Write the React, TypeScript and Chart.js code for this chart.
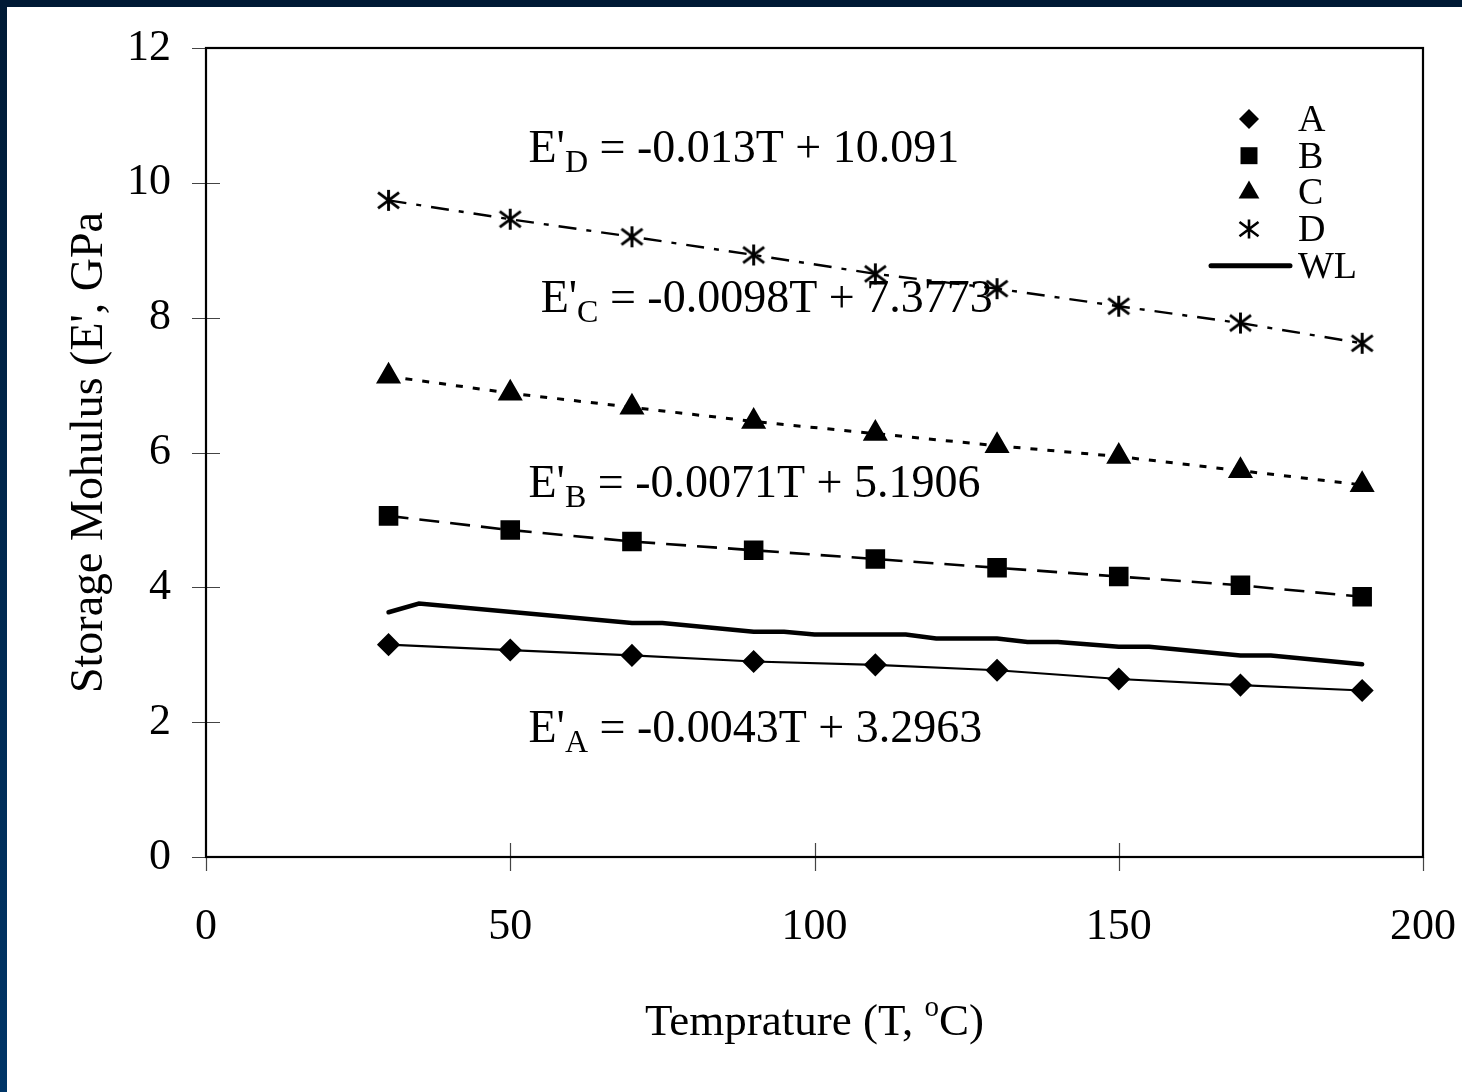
import React, { useEffect, useRef } from 'react';
import { Chart, registerables } from 'chart.js';

Chart.register(...registerables);

const temps = [30, 50, 70, 90, 110, 130, 150, 170, 190];
const seriesA = [3.15, 3.07, 2.99, 2.9, 2.85, 2.77, 2.64, 2.55, 2.47];
const seriesB = [5.06, 4.85, 4.68, 4.55, 4.42, 4.29, 4.16, 4.03, 3.86];
const seriesC = [7.13, 6.88, 6.67, 6.46, 6.28, 6.1, 5.94, 5.73, 5.52];
const seriesD = [9.74, 9.46, 9.2, 8.93, 8.65, 8.43, 8.17, 7.92, 7.62];
const wlTemps = [30, 35, 70, 75, 90, 95, 100, 115, 120, 130, 135, 140, 150, 155, 170, 175, 190];
const wlValues = [3.63, 3.76, 3.47, 3.47, 3.34, 3.34, 3.3, 3.3, 3.24, 3.24, 3.19, 3.19, 3.12, 3.12, 2.99, 2.99, 2.86];
const seriesLabels = ['A', 'B', 'C', 'D', 'WL'];
const xTickValues = [0, 50, 100, 150, 200];
const yTickValues = [0, 2, 4, 6, 8, 10, 12];
const eqSubscripts = ['D', 'C', 'B', 'A'];
const eqRest = [' = -0.013T + 10.091', ' = -0.0098T + 7.3773', ' = -0.0071T + 5.1906', ' = -0.0043T + 3.2963'];
// anchor (data coords) of each equation: left x, baseline y
const eqAnchorX = [53, 55, 53, 53];
const eqAnchorY = [10.31, 8.08, 5.34, 1.71];
const xTitle = 'Temprature (T, ';
const xTitleSup = 'o';
const xTitleEnd = 'C)';
const yTitle = "Storage Mohulus (E', GPa";

const FONT = '"Liberation Serif", "Times New Roman", serif';

function makeStar(size: number, lw: number): HTMLCanvasElement {
  const c = document.createElement('canvas');
  c.width = size + 4;
  c.height = size + 4;
  const ctx = c.getContext('2d')!;
  const cx = c.width / 2;
  const cy = c.height / 2;
  const h = size / 2;
  ctx.strokeStyle = '#000';
  ctx.lineWidth = lw;
  ctx.beginPath();
  ctx.moveTo(cx, cy - h);
  ctx.lineTo(cx, cy + h);
  ctx.moveTo(cx - h, cy - h * 0.75);
  ctx.lineTo(cx + h, cy + h * 0.75);
  ctx.moveTo(cx - h, cy + h * 0.75);
  ctx.lineTo(cx + h, cy - h * 0.75);
  ctx.stroke();
  return c;
}

function drawMarker(ctx: CanvasRenderingContext2D, style: string, x: number, y: number, r: number) {
  ctx.save();
  ctx.fillStyle = '#000';
  ctx.strokeStyle = '#000';
  ctx.beginPath();
  if (style === 'rectRot') {
    ctx.moveTo(x, y - r);
    ctx.lineTo(x + r, y);
    ctx.lineTo(x, y + r);
    ctx.lineTo(x - r, y);
    ctx.closePath();
    ctx.fill();
  } else if (style === 'rect') {
    const s = r * Math.SQRT1_2;
    ctx.rect(x - s, y - s, 2 * s, 2 * s);
    ctx.fill();
  } else if (style === 'triangle') {
    ctx.moveTo(x, y - r);
    ctx.lineTo(x + r * 0.866, y + r * 0.5);
    ctx.lineTo(x - r * 0.866, y + r * 0.5);
    ctx.closePath();
    ctx.fill();
  } else if (style === 'star') {
    ctx.lineWidth = 2.6;
    ctx.moveTo(x, y - r);
    ctx.lineTo(x, y + r);
    ctx.moveTo(x - r, y - r * 0.75);
    ctx.lineTo(x + r, y + r * 0.75);
    ctx.moveTo(x - r, y + r * 0.75);
    ctx.lineTo(x + r, y - r * 0.75);
    ctx.stroke();
  }
  ctx.restore();
}

const decorPlugin = {
  id: 'decor',
  afterDatasetsDraw(chart: any) {
    const { ctx, chartArea: a, scales } = chart;
    const xs = scales.x;
    const ys = scales.y;
    ctx.save();
    // ticks crossing the axes
    ctx.strokeStyle = '#444';
    ctx.lineWidth = 1.2;
    ctx.beginPath();
    yTickValues.forEach((v) => {
      const py = Math.round(ys.getPixelForValue(v)) + 0.5;
      ctx.moveTo(a.left - 14, py);
      ctx.lineTo(a.left + (v === 0 || v === 12 ? 0 : 14), py);
    });
    xTickValues.forEach((v) => {
      const px = Math.round(xs.getPixelForValue(v)) + 0.5;
      ctx.moveTo(px, a.bottom + 14);
      ctx.lineTo(px, a.bottom - (v === 0 || v === 200 ? 0 : 14));
    });
    ctx.stroke();
    // plot frame
    ctx.strokeStyle = '#000';
    ctx.lineWidth = 2.2;
    ctx.strokeRect(a.left, a.top, a.right - a.left, a.bottom - a.top);

    // equations
    ctx.fillStyle = '#000';
    ctx.textBaseline = 'alphabetic';
    ctx.textAlign = 'left';
    eqSubscripts.forEach((sub, i) => {
      let x = xs.getPixelForValue(eqAnchorX[i]);
      const y = ys.getPixelForValue(eqAnchorY[i]);
      ctx.font = `46px ${FONT}`;
      ctx.fillText("E'", x, y);
      x += ctx.measureText("E'").width;
      ctx.font = `32px ${FONT}`;
      ctx.fillText(sub, x, y + 10);
      x += ctx.measureText(sub).width;
      ctx.font = `46px ${FONT}`;
      ctx.fillText(eqRest[i], x, y);
    });

    // legend
    const ds = chart.data.datasets;
    const lx = a.right - 174;
    const ly0 = a.top + 71;
    ctx.font = `38px ${FONT}`;
    ctx.textBaseline = 'middle';
    ds.forEach((d: any, i: number) => {
      const y = ly0 + i * 36.7;
      if (d.legendMarker) {
        drawMarker(ctx, d.legendMarker, lx, y, d.legendRadius);
      } else {
        ctx.save();
        ctx.strokeStyle = '#000';
        ctx.lineWidth = 5;
        ctx.lineCap = 'round';
        ctx.beginPath();
        ctx.moveTo(lx - 38, y);
        ctx.lineTo(lx + 41, y);
        ctx.stroke();
        ctx.restore();
      }
      ctx.fillText(d.label, lx + 49, y + 2);
    });

    // x title with superscript
    ctx.textBaseline = 'alphabetic';
    ctx.font = `45px ${FONT}`;
    const w1 = ctx.measureText(xTitle).width;
    const w3 = ctx.measureText(xTitleEnd).width;
    ctx.font = `29px ${FONT}`;
    const w2 = ctx.measureText(xTitleSup).width;
    const total = w1 + w2 + w3;
    let tx = (a.left + a.right) / 2 - total / 2;
    const ty = a.bottom + 178;
    ctx.font = `45px ${FONT}`;
    ctx.fillText(xTitle, tx, ty);
    tx += w1;
    ctx.font = `29px ${FONT}`;
    ctx.fillText(xTitleSup, tx, ty - 19);
    tx += w2;
    ctx.font = `45px ${FONT}`;
    ctx.fillText(xTitleEnd, tx, ty);
    ctx.restore();
  },
};

export default function App() {
  const ref = useRef<HTMLCanvasElement | null>(null);
  useEffect(() => {
    if (!ref.current) return;
    const starBig = makeStar(21, 2.9);
    const mk = (vals: number[]) => vals.map((v, i) => ({ x: temps[i], y: v }));
    const chart = new Chart(ref.current, {
      type: 'line',
      data: {
        datasets: [
          {
            label: seriesLabels[0],
            data: mk(seriesA),
            borderColor: '#000',
            backgroundColor: '#000',
            borderWidth: 2.2,
            pointStyle: 'rectRot',
            pointRadius: 10,
            pointHoverRadius: 10,
            legendMarker: 'rectRot',
            legendRadius: 10,
          } as any,
          {
            label: seriesLabels[1],
            data: mk(seriesB),
            borderColor: '#000',
            backgroundColor: '#000',
            borderWidth: 2.6,
            borderDash: [20, 11],
            pointStyle: 'rect',
            pointRadius: 12,
            pointHoverRadius: 12,
            legendMarker: 'rect',
            legendRadius: 12,
          } as any,
          {
            label: seriesLabels[2],
            data: mk(seriesC),
            borderColor: '#000',
            backgroundColor: '#000',
            borderWidth: 3,
            borderDash: [7, 10],
            pointStyle: 'triangle',
            pointRadius: 11.5,
            pointHoverRadius: 11.5,
            legendMarker: 'triangle',
            legendRadius: 12,
          } as any,
          {
            label: seriesLabels[3],
            data: mk(seriesD),
            borderColor: '#000',
            backgroundColor: '#000',
            borderWidth: 2.4,
            borderDash: [18, 10, 5, 10],
            pointStyle: starBig,
            pointRadius: 11,
            legendMarker: 'star',
            legendRadius: 9.5,
          } as any,
          {
            label: seriesLabels[4],
            data: wlValues.map((v, i) => ({ x: wlTemps[i], y: v })),
            borderColor: '#000',
            backgroundColor: '#000',
            borderWidth: 4.5,
            borderCapStyle: 'round',
            pointRadius: 0,
          } as any,
        ],
      },
      options: {
        animation: false,
        responsive: false,
        maintainAspectRatio: false,
        layout: { padding: { top: 41, right: 39, bottom: 0, left: 0 } },
        plugins: { legend: { display: false }, tooltip: { enabled: false } },
        elements: { line: { tension: 0 } },
        scales: {
          x: {
            type: 'linear',
            min: 0,
            max: 200,
            afterBuildTicks: (s: any) => {
              s.ticks = xTickValues.map((v) => ({ value: v }));
            },
            afterFit: (s: any) => {
              s.height = 235;
              s.paddingLeft = 0;
              s.paddingRight = 0;
              s.paddingTop = 0;
              s.paddingBottom = 0;
            },
            grid: { display: false, drawTicks: false },
            border: { display: false },
            ticks: { color: '#000', font: { family: FONT, size: 44 }, padding: 44 },
          },
          y: {
            type: 'linear',
            min: 0,
            max: 12,
            afterBuildTicks: (s: any) => {
              s.ticks = yTickValues.map((v) => ({ value: v }));
            },
            afterFit: (s: any) => {
              s.width = 199;
              s.paddingLeft = 0;
              s.paddingRight = 0;
              s.paddingTop = 0;
              s.paddingBottom = 0;
            },
            grid: { display: false, drawTicks: false },
            border: { display: false },
            ticks: { color: '#000', font: { family: FONT, size: 44 }, padding: 35 },
            title: {
              display: true,
              text: yTitle,
              color: '#000',
              font: { family: FONT, size: 46 },
              padding: { top: 55, bottom: 0 },
            },
          },
        },
      },
      plugins: [decorPlugin],
    });
    return () => chart.destroy();
  }, []);

  return (
    <div
      style={{
        position: 'fixed',
        left: 0,
        top: 0,
        width: 1462,
        height: 1092,
        background: 'linear-gradient(to bottom, #001a35, #003567)',
      }}
    >
      <div style={{ position: 'absolute', left: 7, top: 7, width: 1455, height: 1085, background: '#fff' }}>
        <canvas ref={ref} width={1455} height={1085} style={{ display: 'block', width: 1455, height: 1085 }} />
      </div>
    </div>
  );
}
